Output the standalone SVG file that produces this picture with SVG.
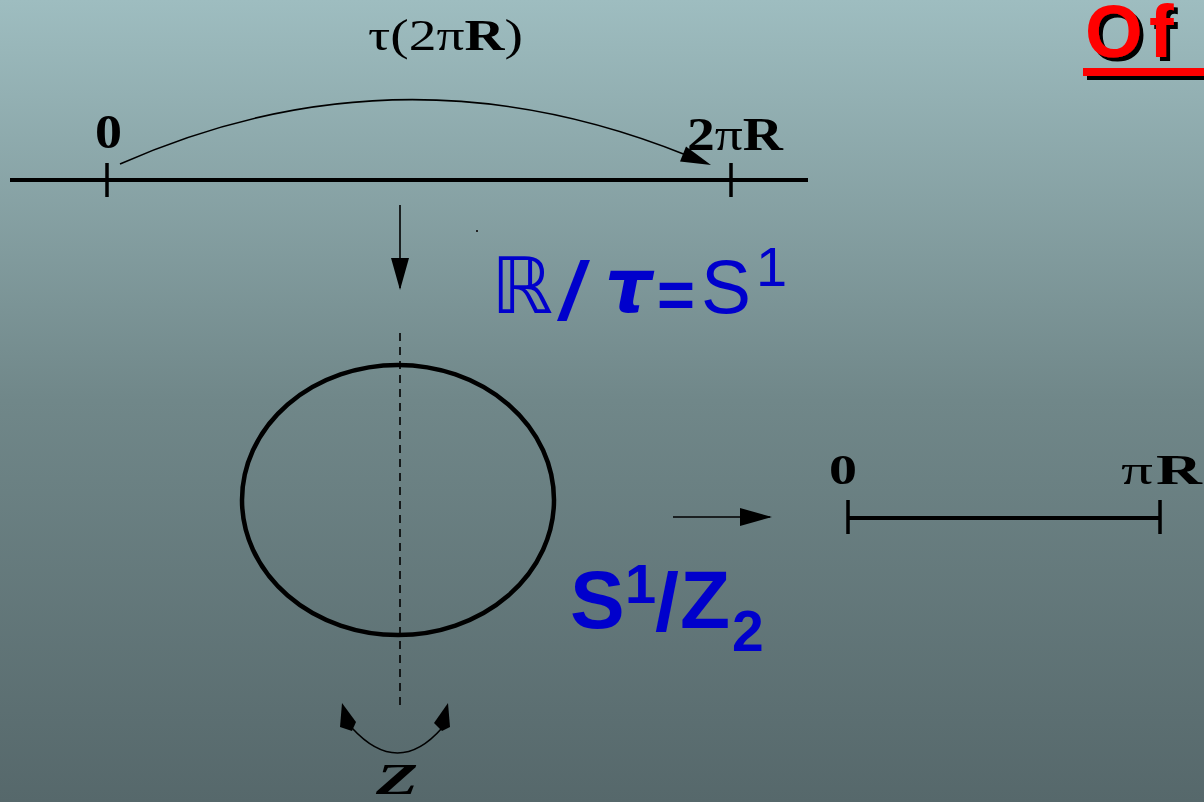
<svg xmlns="http://www.w3.org/2000/svg" width="1204" height="802" viewBox="0 0 1204 802">
<defs>
<linearGradient id="bg" x1="0" y1="0" x2="0" y2="1">
<stop offset="0" stop-color="#9ebdc0"/>
<stop offset="0.5" stop-color="#708789"/>
<stop offset="1" stop-color="#56686b"/>
</linearGradient>
<marker id="ah" viewBox="0 0 32 18" refX="30" refY="9" markerWidth="32" markerHeight="18" markerUnits="userSpaceOnUse" orient="auto">
<path d="M0,0 L32,9 L0,18 Z" fill="#000"/>
</marker>
<filter id="shadow" x="-10%" y="-10%" width="130%" height="140%">
<feOffset in="SourceAlpha" dx="4" dy="4" result="off"/>
<feMerge><feMergeNode in="off"/><feMergeNode in="SourceGraphic"/></feMerge>
</filter>
<style>
.serif{font-family:"Liberation Serif","Times New Roman",serif;fill:#000}
.b{font-weight:bold}
.blue{font-family:"Liberation Sans",Arial,sans-serif;fill:#0000cc}
.axis{stroke:#000;stroke-width:4;fill:none}
.tick{stroke:#000;stroke-width:3.5;fill:none}
.thin{stroke:#000;stroke-width:1.6;fill:none}
</style>
</defs>
<rect x="0" y="0" width="1204" height="802" fill="url(#bg)"/>

<g id="title">
<text class="serif" x="368" y="50" font-size="44" textLength="155" lengthAdjust="spacingAndGlyphs">τ(2π<tspan class="b">R</tspan>)</text>
</g>

<g id="real-line">
<line class="axis" x1="10" y1="180" x2="808" y2="180"/>
<line class="tick" x1="107" y1="163" x2="107" y2="197"/>
<line class="tick" x1="731" y1="163" x2="731" y2="197"/>
<text class="serif b" x="95" y="148" font-size="48" textLength="27" lengthAdjust="spacingAndGlyphs">0</text>
<text class="serif" x="687" y="150" font-size="46" textLength="96" lengthAdjust="spacingAndGlyphs"><tspan class="b">2</tspan>π<tspan class="b">R</tspan></text>
</g>

<g id="quotient-label">
<rect x="476" y="230" width="2" height="2" fill="#222"/>
<text x="491" y="313" font-family="DejaVu Sans, sans-serif" font-size="78" fill="#0000cc">ℝ</text>
<text class="blue b" x="560" y="319" font-size="82" font-style="italic">/</text>
<text x="605" y="312" font-family="DejaVu Sans, sans-serif" font-size="74" font-weight="bold" font-style="oblique" fill="#0000cc">τ</text>
<text class="blue b" x="657" y="318" font-size="66" textLength="38" lengthAdjust="spacingAndGlyphs">=</text>
<text class="blue" x="701" y="313" font-size="76" textLength="50" lengthAdjust="spacingAndGlyphs">S</text>
<text class="blue" x="756" y="286" font-size="56">1</text>
</g>

<g id="circle">
<ellipse cx="398" cy="500" rx="156" ry="135" fill="none" stroke="#000" stroke-width="4.5"/>
<line x1="400" y1="333" x2="400" y2="706" stroke="#000" stroke-width="1.6" stroke-dasharray="8 6"/>
</g>

<g id="orbifold-label">
<text class="blue b" x="570" y="628" font-size="82">S</text>
<text class="blue b" x="625" y="603" font-size="56">1</text>
<text class="blue b" x="655" y="630" font-size="82" textLength="24" lengthAdjust="spacingAndGlyphs">/</text>
<text class="blue b" x="680" y="628" font-size="82">Z</text>
<text class="blue b" x="732" y="651" font-size="57">2</text>
</g>

<g id="interval">
<line class="axis" x1="848" y1="518" x2="1160" y2="518"/>
<line class="tick" x1="848" y1="500" x2="848" y2="534"/>
<line class="tick" x1="1160" y1="500" x2="1160" y2="534"/>
<text class="serif b" x="829" y="484" font-size="42" textLength="28" lengthAdjust="spacingAndGlyphs">0</text>
<text class="serif" x="1121" y="484" font-size="42" textLength="32" lengthAdjust="spacingAndGlyphs">π</text>
<text class="serif b" x="1156" y="484" font-size="42" textLength="46" lengthAdjust="spacingAndGlyphs">R</text>
</g>

<g id="z2-label">
<text x="376" y="794" font-family="Liberation Serif, serif" font-weight="bold" font-style="italic" font-size="44" textLength="42" lengthAdjust="spacingAndGlyphs">Z</text>
</g>

<g id="of-label" filter="url(#shadow)">
<text x="1085" y="57" font-family="Liberation Sans, Arial, sans-serif" font-weight="bold" font-size="74" fill="#ff0000">O<tspan x="1149">f</tspan></text>
<rect x="1083" y="68" width="121" height="8" fill="#ff0000"/>
</g>

<g id="connectors">
<path class="thin" d="M120,164 Q400,40 686,155"/>
<polygon points="711,165 680,161.5 686,146.5" fill="#000"/>
<line class="thin" x1="400" y1="205" x2="400" y2="288" marker-end="url(#ah)"/>
<line class="thin" x1="673" y1="517" x2="770" y2="517" marker-end="url(#ah)"/>
<path class="thin" d="M352,728 Q398,778 442,728"/>
<polygon points="342,703 356,722 352,731 340,727" fill="#000"/>
<polygon points="448,703 450,727 442,731 434,723" fill="#000"/>
</g>
</svg>
